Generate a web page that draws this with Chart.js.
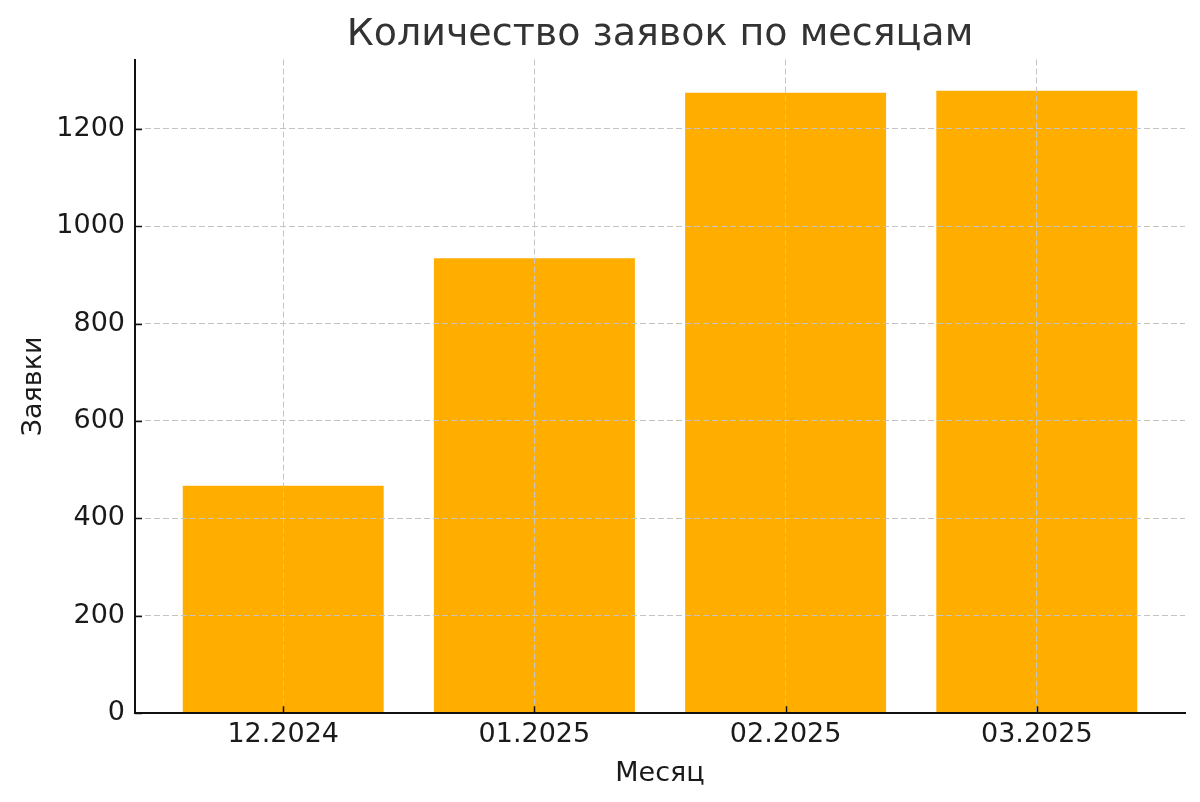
<!DOCTYPE html>
<html>
<head>
<meta charset="utf-8">
<script src="https://cdn.jsdelivr.net/npm/chart.js@4"></script>
<style>
  html, body { margin: 0; padding: 0; background: #fff; }
  #chartCanvas { display: block; }
</style>
</head>
<body>
<canvas id="chartCanvas" width="1200" height="802"></canvas>
<script>
// Chart data
const months = ['12.2024', '01.2025', '02.2025', '03.2025'];
const requests = [467, 934, 1274, 1278];
const yTicks = [0, 200, 400, 600, 800, 1000, 1200];

const textFont = 'DejaVu Sans';

// Inward tick marks like the original
const inwardTicks = {
  id: 'inwardTicks',
  afterLayout(chart) {
    // center the title over the plot area, not the whole canvas
    if (chart.titleBlock) {
      chart.titleBlock.left = chart.chartArea.left;
      chart.titleBlock.right = chart.chartArea.right;
    }
  },
  afterDraw(chart) {
    const ctx = chart.ctx;
    const xs = chart.scales.x;
    const ys = chart.scales.y;
    ctx.save();
    ctx.strokeStyle = '#111';
    ctx.lineWidth = 1.5;
    ctx.beginPath();
    months.forEach(function(m, i) {
      const px = Math.round(xs.getPixelForValue(i)) + 0.5;
      ctx.moveTo(px, ys.bottom);
      ctx.lineTo(px, ys.bottom - 7);
    });
    yTicks.forEach(function(v) {
      const py = Math.round(ys.getPixelForValue(v)) + 0.5;
      ctx.moveTo(xs.left, py);
      ctx.lineTo(xs.left + 7, py);
    });
    ctx.stroke();
    ctx.restore();
  }
};

new Chart(document.getElementById('chartCanvas'), {
  type: 'bar',
  data: {
    datasets: [{
      label: 'Заявки',
      data: requests.map(function(v, i) { return { x: i, y: v }; }),
      backgroundColor: '#FFAE00',
      borderWidth: 0,
      barPercentage: 0.8,
      categoryPercentage: 1.0
    }]
  },
  options: {
    responsive: false,
    animation: false,
    devicePixelRatio: 1,
    layout: { padding: { left: 0, right: 15, top: 0, bottom: 0 } },
    plugins: {
      legend: { display: false },
      tooltip: { enabled: false },
      title: {
        display: true,
        text: 'Количество заявок по месяцам',
        color: '#333',
        font: { family: textFont, size: 38, weight: 'normal' },
        padding: { top: 12, bottom: 2 }
      }
    },
    scales: {
      x: {
        type: 'linear',
        min: -0.59,
        max: 3.59,
        offset: false,
        afterBuildTicks: function(s) {
          s.ticks = months.map(function(m, i) { return { value: i }; });
        },
        ticks: {
          color: '#1a1a1a',
          font: { family: textFont, size: 27 },
          padding: 6,
          maxRotation: 0,
          callback: function(v) { return months[v]; }
        },
        grid: {
          z: 1,
          offset: false,
          color: '#c4c4c4',
          lineWidth: 1,
          drawTicks: false
        },
        border: { display: true, color: '#111', width: 2, dash: [6, 3], z: 2 },
        title: {
          display: true,
          text: 'Месяц',
          color: '#1a1a1a',
          font: { family: textFont, size: 27 },
          padding: { top: 0, bottom: 12 }
        }
      },
      y: {
        min: 0,
        max: 1342,
        afterBuildTicks: function(s) {
          s.ticks = yTicks.map(function(v) { return { value: v }; });
        },
        afterFit: function(s) { s.width = 135; },
        ticks: {
          color: '#1a1a1a',
          font: { family: textFont, size: 27 },
          padding: 10,
          callback: function(v) { return String(v); }
        },
        grid: {
          z: 1,
          color: '#c4c4c4',
          lineWidth: 1,
          drawTicks: false
        },
        border: { display: true, color: '#111', width: 2, dash: [6, 3], z: 2 },
        title: {
          display: true,
          text: 'Заявки',
          color: '#1a1a1a',
          font: { family: textFont, size: 27 },
          padding: { top: 18, bottom: 0 }
        }
      }
    }
  },
  plugins: [inwardTicks]
});
</script>
</body>
</html>
